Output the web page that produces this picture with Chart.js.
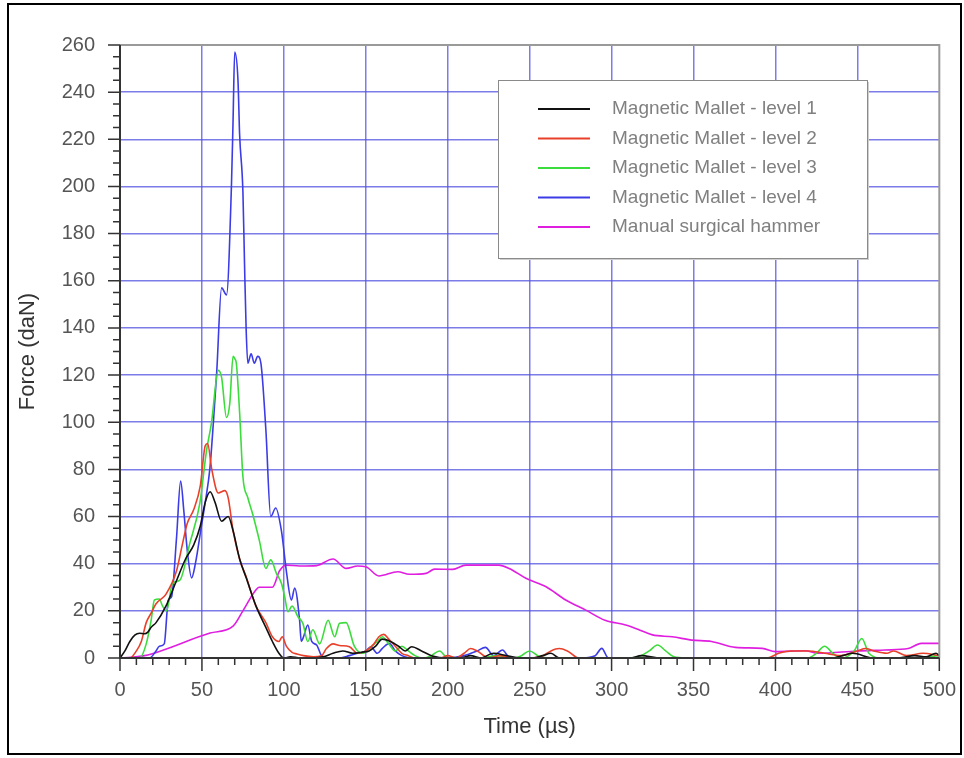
<!DOCTYPE html>
<html>
<head>
<meta charset="utf-8">
<script src="https://cdn.jsdelivr.net/npm/chart.js@4/dist/chart.umd.min.js"></script>
<style>
  html, body { margin: 0; padding: 0; background: #fff; }
</style>
</head>
<body>
<canvas id="graficoFuerza" width="964" height="758"></canvas>
<script>
// Etiquetas de las series
const seriesLabels = [
  'Magnetic Mallet - level 1',
  'Magnetic Mallet - level 2',
  'Magnetic Mallet - level 3',
  'Magnetic Mallet - level 4',
  'Manual surgical hammer'
];
const seriesColors = ['#111111', '#e8402a', '#3ddc3d', '#3c3ce6', '#e01ee0'];

// Level 1 (negro)
const level1Time = [0, 3, 6, 9, 12, 15, 17, 19, 22, 28, 34, 40, 45, 49, 52, 55, 58, 62, 66, 69, 73, 77, 83, 89, 93, 97, 100, 104, 110, 118, 124, 130, 136, 142, 148, 152, 156, 160, 165, 170, 174, 178, 184, 190, 200, 208, 214, 220, 228, 236, 244, 252, 258, 263, 268, 276, 290, 305, 312, 318, 330, 345, 360, 380, 400, 420, 435, 441, 447, 460, 475, 485, 492, 498, 500];
const level1Force = [0, 3, 7, 9.7, 10.5, 10.3, 11, 13, 15, 22, 32, 42, 48, 56, 66, 70.5, 66, 58, 60, 54, 42, 34, 22, 13, 7, 2, 0, 0.5, 0, 0, 0.5, 2, 3, 2, 2.5, 3, 5, 8, 7, 5, 3, 4.8, 3, 1, 0, 0, 1, 0, 2, 1, 0, 0, 1, 2, 0, 0, 0, 0, 0, 1, 0, 0, 0, 0, 0, 0, 0, 1, 2, 0, 0, 1, 0.5, 2, 1];

// Level 2 (rojo)
const level2Time = [0, 6, 10, 13, 16, 19, 22, 28, 34.5, 38, 41, 45, 49, 52, 53.5, 56, 60, 64, 66, 69, 73, 77, 83, 89, 93, 97, 99, 101.5, 105, 108, 112, 118, 123, 126, 130, 134, 140, 145, 150, 155, 158, 161, 164, 168, 172, 176, 180, 185, 190, 196, 200, 205, 210, 214, 218, 225, 232, 240, 250, 258, 263, 268, 273, 280, 290, 300, 310, 320, 330, 340, 350, 360, 375, 385, 395, 402, 410, 420, 430, 440, 450, 455, 460, 468, 472, 480, 490, 500];
const level2Force = [0, 0, 3, 7, 15, 19, 23, 27, 37, 48, 57, 63, 73, 90, 91, 80, 70, 71, 68, 54, 42, 34.5, 22, 15, 9, 7, 9, 5, 2.4, 1.7, 1, 0.5, 1, 4, 6, 5.3, 4.8, 2, 3, 6, 9, 10, 8, 5, 2, 1, 0, 0, 0, 0, 1, 0, 2, 4, 3, 0, 1, 0, 0, 1, 3, 4, 3, 0, 0, 0, 0, 0, 0, 0, 0, 0, 0, 0, 0, 2, 3, 3, 2, 1, 3, 4, 3, 2, 3, 1, 2, 1];

// Level 3 (verde)
const level3Time = [0, 12, 16, 19, 21, 24, 26, 28.4, 32, 36.5, 42.6, 48.7, 52.8, 55.8, 60, 62, 65, 67, 69, 70, 71, 73, 75, 78, 81, 85, 89, 92, 95.4, 98.5, 100.5, 102.5, 105, 108.6, 111.6, 114.6, 117.7, 121.8, 127, 131, 134, 138, 143, 148, 152, 157, 160, 164, 168, 172, 176, 180, 185, 190, 195, 200, 210, 220, 230, 240, 245, 250, 255, 262, 270, 280, 290, 300, 310, 318, 323, 328, 333, 338, 345, 360, 380, 400, 420, 425, 430, 435, 440, 448, 452.7, 457, 465, 475, 485, 500];
const level3Force = [0, 0, 6, 16, 24.6, 25, 22, 20, 31.6, 33, 48.6, 65.6, 88, 99.6, 122, 119, 102, 108, 128, 127, 125, 104, 77, 68, 61, 50, 38, 41.6, 36, 31.7, 26, 19.6, 22, 17.5, 14.7, 7, 12, 6, 16, 9, 14.7, 15, 5, 2, 4, 7, 9, 6, 3, 5, 3, 1, 0, 1, 3, 0, 0, 0, 1, 0, 1, 3, 1, 0, 0, 0, 0, 0, 0, 1, 3, 5.5, 3, 0.5, 0, 0, 0, 0, 0, 2, 5, 2, 0, 3, 8.3, 2, 0, 0, 0, 1];

// Level 4 (azul)
const level4Time = [0, 18, 22, 24, 27, 29.5, 31.5, 34.5, 37, 39, 41, 43.7, 46, 49.7, 52, 54.8, 57, 59, 62, 65, 68, 69, 70, 72, 73, 75, 76, 77, 78, 80, 82, 84, 86, 89, 92, 95, 98.5, 101.5, 104.6, 106.6, 109.6, 110.6, 112, 114.6, 117, 120, 123, 127, 133, 140, 145, 150, 153, 157, 160, 164.4, 168, 172, 180, 190, 200, 210, 218, 223, 228, 233.4, 238, 245, 260, 280, 290, 294, 298, 310, 330, 350, 380, 400, 450, 500];
const level4Force = [0, 0, 3, 5, 6, 24.6, 26, 51, 75, 62, 46, 34, 40, 56, 66, 80, 100, 121, 157, 154, 200, 228, 257, 245, 222, 198, 167, 139, 125, 129, 125, 128, 125, 97, 60, 63.6, 54, 37, 24.6, 29.7, 16, 7, 9, 14, 7, 5.5, 1, 0, 0, 1, 2, 3, 4.8, 2, 4, 6.2, 3, 1, 0, 0, 0, 1, 3, 4.5, 1, 3.4, 0, 0, 0, 0, 1, 4.1, 0, 0, 0, 0, 0, 0, 0, 0];

// Martillo manual (magenta)
const hammerTime = [0, 15, 55, 69, 75, 82, 85, 93, 97.4, 101.5, 109.6, 120, 130, 138, 145, 150, 158, 169.5, 176.6, 186.8, 192, 203, 211, 231, 237.5, 247.7, 260, 272, 284, 296, 308.6, 317, 325, 337, 349, 361, 375.6, 392, 400, 418, 426, 450, 467, 481, 489, 500];
const hammerForce = [0, 1, 10.6, 13.5, 20, 28, 30, 30, 37, 39.4, 39, 39.2, 42, 38, 39, 38.7, 34.8, 36.6, 35.5, 35.9, 37.7, 37.6, 39.4, 39.4, 38, 33.8, 30.2, 24.6, 20.4, 16, 14, 11.9, 9.8, 9, 7.6, 7, 4.5, 4.1, 2.7, 3.1, 2, 3, 3.4, 4, 6.2, 6.2];

// Ejes
const xMin = 0, xMax = 500, xMajor = 50, xMinor = 10;
const yMin = 0, yMax = 260, yMajor = 20, yMinor = 5;

const fuente = '"Liberation Sans", Arial, sans-serif';

function puntos(tiempos, fuerzas) {
  return tiempos.map((t, i) => ({ x: t, y: fuerzas[i] }));
}

const todasSeries = [
  [level1Time, level1Force],
  [level2Time, level2Force],
  [level3Time, level3Force],
  [level4Time, level4Force],
  [hammerTime, hammerForce]
];

const datasets = todasSeries.map((s, i) => ({
  label: seriesLabels[i],
  data: puntos(s[0], s[1]),
  borderColor: seriesColors[i],
  backgroundColor: seriesColors[i],
  borderWidth: 1.6,
  pointRadius: 0,
  cubicInterpolationMode: 'monotone',
  fill: false
}));

// Marco, ticks menores y leyenda
const marcoPlugin = {
  id: 'marco',
  afterDraw(chart) {
    const { ctx, chartArea: a, scales: { x, y } } = chart;
    ctx.save();

    // ticks
    ctx.strokeStyle = '#333';
    ctx.lineWidth = 1.5;
    ctx.beginPath();
    x.ticks.forEach(t => {
      const px = x.getPixelForValue(t.value);
      const len = t.value % xMajor === 0 ? 13 : 7;
      ctx.moveTo(px, a.bottom);
      ctx.lineTo(px, a.bottom + len);
    });
    y.ticks.forEach(t => {
      const py = y.getPixelForValue(t.value);
      const len = t.value % yMajor === 0 ? 12 : 7;
      ctx.moveTo(a.left, py);
      ctx.lineTo(a.left - len, py);
    });
    ctx.stroke();

    // marco gris arriba / derecha
    ctx.strokeStyle = '#9a9a9a';
    ctx.lineWidth = 2;
    ctx.beginPath();
    ctx.moveTo(a.left, a.top);
    ctx.lineTo(a.right, a.top);
    ctx.lineTo(a.right, a.bottom);
    ctx.stroke();

    // ejes
    ctx.strokeStyle = '#333';
    ctx.lineWidth = 2;
    ctx.beginPath();
    ctx.moveTo(a.left, a.top);
    ctx.lineTo(a.left, a.bottom);
    ctx.lineTo(a.right, a.bottom);
    ctx.stroke();

    // leyenda
    const lx = 498, ly = 80, lw = 369, lh = 178;
    ctx.fillStyle = '#cfcfcf';
    ctx.fillRect(lx + 2, ly + 2, lw, lh);
    ctx.fillStyle = '#ffffff';
    ctx.fillRect(lx, ly, lw, lh);
    ctx.strokeStyle = '#8a8a8a';
    ctx.lineWidth = 1;
    ctx.strokeRect(lx + 0.5, ly + 0.5, lw, lh);

    ctx.font = '19px ' + fuente;
    ctx.textBaseline = 'middle';
    ctx.textAlign = 'left';
    chart.data.datasets.forEach((ds, i) => {
      const ry = 109 + i * 29.5;
      ctx.strokeStyle = ds.borderColor;
      ctx.lineWidth = 2;
      ctx.beginPath();
      ctx.moveTo(538, ry);
      ctx.lineTo(590, ry);
      ctx.stroke();
      ctx.fillStyle = '#808080';
      ctx.fillText(ds.label, 612, ry);
    });

    // borde exterior
    ctx.strokeStyle = '#000';
    ctx.lineWidth = 2;
    ctx.strokeRect(8, 4, 953, 750);

    ctx.restore();
  }
};

const gridAzul = 'rgba(80, 80, 225, 0.75)';

new Chart(document.getElementById('graficoFuerza').getContext('2d'), {
  type: 'line',
  data: { datasets: datasets },
  plugins: [marcoPlugin],
  options: {
    responsive: false,
    animation: false,
    events: [],
    layout: { padding: { left: 0, right: 23, top: 45, bottom: 0 } },
    plugins: {
      legend: { display: false },
      tooltip: { enabled: false }
    },
    scales: {
      x: {
        type: 'linear',
        min: xMin,
        max: xMax,
        afterFit: s => { s.height = 100; },
        border: { display: false },
        grid: {
          color: c => (c.tick && c.tick.value % xMajor === 0 && c.tick.value > xMin && c.tick.value < xMax) ? gridAzul : 'transparent',
          lineWidth: 1.5,
          tickLength: 12,
          tickColor: 'transparent'
        },
        ticks: {
          stepSize: xMinor,
          autoSkip: false,
          maxRotation: 0,
          padding: 8,
          color: '#555',
          font: { family: fuente, size: 20 },
          callback: v => v % xMajor === 0 ? v : ''
        },
        title: {
          display: true,
          text: 'Time (µs)',
          color: '#333',
          font: { family: fuente, size: 22 },
          padding: { top: 0, bottom: 18 }
        }
      },
      y: {
        type: 'linear',
        min: yMin,
        max: yMax,
        afterFit: s => { s.width = 120; },
        border: { display: false },
        grid: {
          color: c => (c.tick && c.tick.value % yMajor === 0 && c.tick.value > yMin && c.tick.value < yMax) ? gridAzul : 'transparent',
          lineWidth: 1.5,
          tickLength: 12,
          tickColor: 'transparent'
        },
        ticks: {
          stepSize: yMinor,
          autoSkip: false,
          padding: 13,
          color: '#555',
          font: { family: fuente, size: 20 },
          callback: v => v % yMajor === 0 ? v : ''
        },
        title: {
          display: true,
          text: 'Force (daN)',
          color: '#333',
          font: { family: fuente, size: 22 },
          padding: { top: 15, bottom: 0 }
        }
      }
    }
  }
});
</script>
</body>
</html>
